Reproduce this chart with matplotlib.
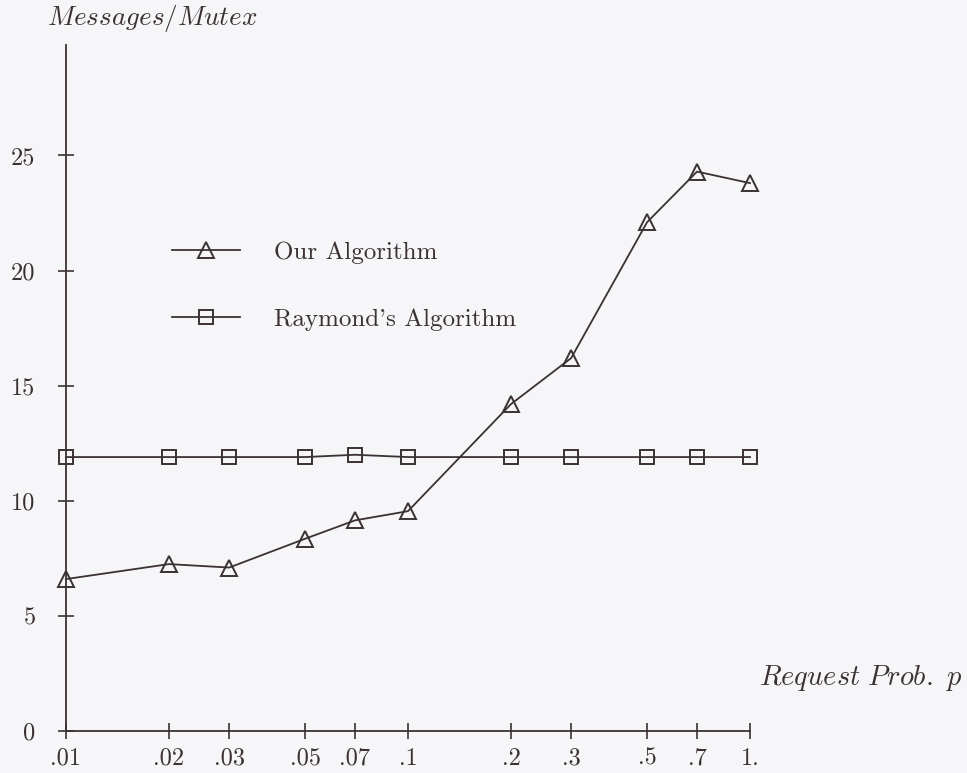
import numpy as np
import matplotlib
matplotlib.use("Agg")
import matplotlib.pyplot as plt

# values
request_prob = [0.01, 0.02, 0.03, 0.05, 0.07, 0.1, 0.2, 0.3, 0.5, 0.7, 1.0]
prob_labels = [".01", ".02", ".03", ".05", ".07", ".1", ".2", ".3", ".5", ".7", "1."]
our_algorithm = [6.6, 7.25, 7.1, 8.35, 9.15, 9.55, 14.2, 16.2, 22.1, 24.3, 23.8]
raymond = [11.9, 11.9, 11.9, 11.9, 12.0, 11.9, 11.9, 11.9, 11.9, 11.9, 11.9]
y_ticks = [0, 5, 10, 15, 20, 25]

ink = "#3a3134"
paper = "#f6f5f8"

plt.rcParams['font.family'] = ['cmr10', 'DejaVu Serif']
plt.rcParams['mathtext.fontset'] = 'cm'
plt.rcParams['axes.formatter.use_mathtext'] = True

fig = plt.figure(figsize=(9.67, 7.73), dpi=100, facecolor=paper)
ax = fig.add_axes([66 / 967, 42 / 773, 684 / 967, 686 / 773])
ax.set_facecolor(paper)

ax.plot(request_prob, our_algorithm, color=ink, lw=1.3, marker='^', ms=11,
        mfc='none', mec=ink, mew=1.4, label="Our Algorithm", clip_on=False)
ax.plot(request_prob, raymond, color=ink, lw=1.3, marker='s', ms=10,
        mfc='none', mec=ink, mew=1.4, label="Raymond's Algorithm", clip_on=False)

ax.set_xscale('log')
ax.set_xlim(0.01, 1.0)
ax.set_ylim(0, 29.8)
ax.set_xticks(request_prob)
ax.set_xticklabels(prob_labels)
ax.xaxis.set_minor_locator(matplotlib.ticker.NullLocator())
ax.set_yticks(y_ticks)
ax.set_yticklabels([str(v) for v in y_ticks])

for side in ['top', 'right']:
    ax.spines[side].set_visible(False)
for side in ['left', 'bottom']:
    ax.spines[side].set_color(ink)
    ax.spines[side].set_linewidth(1.3)

ax.tick_params(axis='both', direction='inout', length=12, width=1.2,
               colors=ink, labelsize=17.5, labelcolor=ink)
ax.tick_params(axis='x', pad=6)
ax.tick_params(axis='y', pad=16)

fig.text(47 / 967, 1 - 18 / 773, r"$Messages/Mutex$", fontsize=19.5,
         color=ink, va='center', ha='left')
fig.text(962 / 967, 1 - 678 / 773, r"$\mathit{Request\ Prob.\ p}$", fontsize=20.5,
         color=ink, va='center', ha='right')

leg = ax.legend(loc='upper left', bbox_to_anchor=(172 / 967, 1 - 241 / 773),
                bbox_transform=fig.transFigure, frameon=False, fontsize=18,
                handlelength=2.7, handletextpad=1.4, labelspacing=1.8,
                borderpad=0, borderaxespad=0, numpoints=1)
for t in leg.get_texts():
    t.set_color(ink)

fig.savefig("out.png", dpi=100, facecolor=paper)
